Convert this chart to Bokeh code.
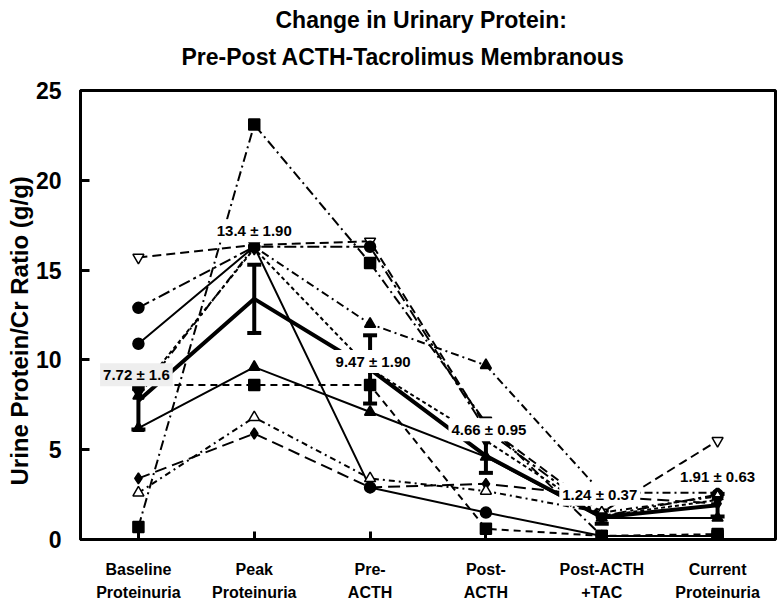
from bokeh.plotting import figure
from bokeh.models import Range1d, FixedTicker, Title, Label, Whisker, ColumnDataSource, TeeHead
from bokeh.embed import file_html
from bokeh.resources import INLINE

# ---- data ----
categories = ["Baseline\nProteinuria", "Peak\nProteinuria", "Pre-\nACTH",
              "Post-\nACTH", "Post-ACTH\n+TAC", "Current\nProteinuria"]
x_pos = [1, 2, 3, 4, 5, 6]

pt_square_a = [0.7, 23.1, 15.4, 6.5, 0.2, 0.2]
pt_invtri_open = [15.7, 16.4, 16.6, 6.3, 1.5, 5.5]
pt_circle_a = [12.9, 16.3, 16.3, 6.1, 1.3, 2.5]
pt_circle_b = [10.9, 16.3, 2.9, 1.5, 0.2, 0.2]
pt_tri_a = [8.0, 16.3, 12.0, 9.7, 2.6, 2.6]
pt_tri_b = [6.2, 9.6, 7.1, 4.6, 1.2, 1.2]
pt_square_b = [8.6, 8.6, 8.6, 0.6, 0.2, 0.3]
pt_diamond = [3.4, 5.9, 2.9, 3.1, 2.4, 2.0]
pt_tri_open = [2.6, 6.8, 3.4, 2.7, 1.5, 2.4]
pt_invtri = [8.2, 16.2, 9.5, 5.5, 1.3, 2.2]

mean_vals = [7.72, 13.4, 9.47, 4.66, 1.24, 1.91]
sem_vals = [1.6, 1.90, 1.90, 0.95, 0.37, 0.63]
mean_labels = ["7.72 ± 1.6", "13.4 ± 1.90", "9.47 ± 1.90",
               "4.66 ± 0.95", "1.24 ± 0.37", "1.91 ± 0.63"]

y_ticks = [0, 5, 10, 15, 20, 25]

FONT = "Liberation Sans"

p = figure(width=778, height=604, x_range=Range1d(0.5, 6.5), y_range=Range1d(0, 25),
           output_backend="svg", toolbar_location=None, title=None,
           min_border_left=80, min_border_right=3, min_border_top=90, min_border_bottom=62)
p.background_fill_color = "white"
p.border_fill_color = "white"
p.xgrid.visible = False
p.ygrid.visible = False
p.outline_line_color = "black"
p.outline_line_width = 3

# patient series: (values, marker, fill, dash)
series = [
    (pt_square_a, "square", "black", "10 4 2 4"),
    (pt_invtri_open, "inverted_triangle", "white", "9 5"),
    (pt_circle_a, "circle", "black", "12 4 3 4"),
    (pt_circle_b, "circle", "black", "solid"),
    (pt_tri_a, "triangle", "black", "8 4 2 4"),
    (pt_tri_b, "triangle", "black", "solid"),
    (pt_square_b, "square", "black", "7 5"),
    (pt_diamond, "diamond", "black", "12 6"),
    (pt_tri_open, "triangle", "white", "6 4 2 4"),
    (pt_invtri, "inverted_triangle", "black", "4 3"),
]
for vals, mk, fill, dash in series:
    p.line(x_pos, vals, line_color="black", line_width=2, line_dash=dash)
    p.scatter(x_pos, vals, marker=mk, size=11, fill_color=fill,
              line_color="black", line_width=1.5)

# mean line with SE bars
src = ColumnDataSource(dict(
    x=x_pos, mean=mean_vals,
    upper=[m + s for m, s in zip(mean_vals, sem_vals)],
    lower=[m - s for m, s in zip(mean_vals, sem_vals)],
))
p.line("x", "mean", source=src, line_color="black", line_width=4)
p.add_layout(Whisker(source=src, base="x", upper="upper", lower="lower",
                     line_width=4, line_color="black",
                     upper_head=TeeHead(size=14, line_width=4, line_color="black"),
                     lower_head=TeeHead(size=14, line_width=4, line_color="black")))

label_dx = [-2, 0, 3, 3, -2, 0]
label_dy = [26, 68, 8, 26, 23, 29]
label_bg = ["#eeeeee", "white", "white", "white", "white", "white"]
for xi, mi, txt, dx, dy, bg in zip(x_pos, mean_vals, mean_labels, label_dx, label_dy, label_bg):
    p.add_layout(Label(x=xi, y=mi, text=txt, x_offset=dx, y_offset=dy,
                       text_align="center", text_baseline="middle",
                       text_font=FONT, text_font_size="15px", text_font_style="bold",
                       text_color="black", background_fill_color=bg, padding=3))

# axes
p.xaxis.ticker = FixedTicker(ticks=x_pos)
p.xaxis.major_label_overrides = {x: c for x, c in zip(x_pos, categories)}
p.yaxis.ticker = FixedTicker(ticks=y_ticks)
for ax in (p.xaxis, p.yaxis):
    ax.axis_line_width = 3
    ax.axis_line_color = "black"
    ax.major_tick_line_width = 3
    ax.major_tick_line_color = "black"
    ax.major_tick_out = 0
    ax.minor_tick_line_color = None
    ax.major_label_text_font = FONT
    ax.major_label_text_font_style = "bold"
    ax.major_label_text_color = "black"
p.xaxis.major_tick_in = 8
p.yaxis.major_tick_in = 9
p.xaxis.major_label_text_font_size = "16px"
p.xaxis.major_label_text_line_height = 1.4
p.xaxis.major_label_standoff = 21
p.yaxis.major_label_text_font_size = "23px"
p.yaxis.major_label_standoff = 19

# y-axis title
p.add_layout(Title(text="Urine Protein/Cr Ratio (g/g)", align="left", offset=54,
                   text_font=FONT, text_font_size="24px", text_font_style="bold",
                   text_color="black", standoff=0), "left")

# two-line title (added nearest-first)
p.add_layout(Title(text="Pre-Post ACTH-Tacrolimus Membranous", align="left", offset=101,
                   vertical_align="top",
                   text_font=FONT, text_font_size="23px", text_font_style="bold",
                   text_color="black", standoff=38), "above")
p.add_layout(Title(text="Change in Urinary Protein:", align="left", offset=195,
                   vertical_align="bottom",
                   text_font=FONT, text_font_size="23px", text_font_style="bold",
                   text_color="black", standoff=-16), "above")

open("out.html", "w").write(file_html(p, INLINE))
